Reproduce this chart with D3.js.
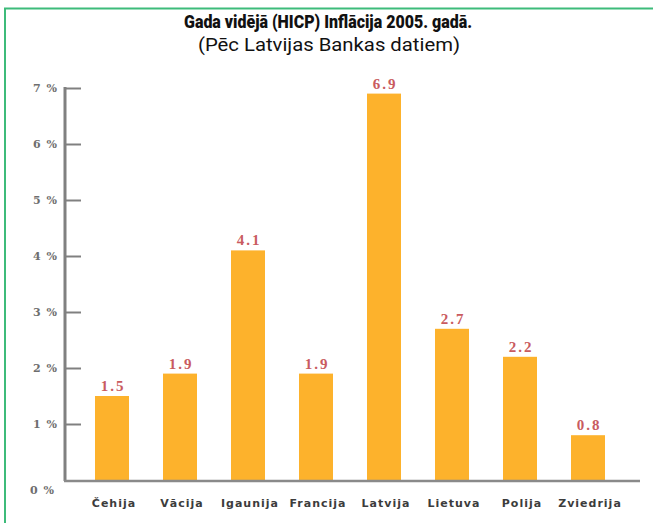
<!DOCTYPE html>
<html>
<head>
<meta charset="utf-8">
<script src="https://cdn.jsdelivr.net/npm/d3@7"></script>
<style>
  body { margin: 0; background: #fff; }
  svg { display: block; }
</style>
</head>
<body>
<script>
// chart data
const countries = ["Čehija", "Vācija", "Igaunija", "Francija", "Latvija", "Lietuva", "Polija", "Zviedrija"];
const inflation = [1.5, 1.9, 4.1, 1.9, 6.9, 2.7, 2.2, 0.8];
const tickValues = [0, 1, 2, 3, 4, 5, 6, 7];

const width = 653;
const height = 523;

const svg = d3.select("body")
  .append("svg")
  .attr("width", width)
  .attr("height", height);

// green frame (only left and top edges are visible)
svg.append("path")
  .attr("d", `M5,${height} L5,8.5 L${width},8.5`)
  .attr("fill", "none")
  .attr("stroke", "#3dbb7a")
  .attr("stroke-width", 2);

// titles
svg.append("text")
  .attr("x", 328)
  .attr("y", 28)
  .attr("text-anchor", "middle")
  .attr("font-family", "'Liberation Sans Narrow', 'Roboto', sans-serif")
  .attr("font-weight", 900)
  .attr("font-size", 19)
  .attr("textLength", 288)
  .attr("lengthAdjust", "spacingAndGlyphs")
  .attr("fill", "#111")
  .text("Gada vidējā (HICP) Inflācija 2005. gadā.");

svg.append("text")
  .attr("x", 329)
  .attr("y", 51)
  .attr("text-anchor", "middle")
  .attr("font-family", "'Liberation Sans Narrow', 'Roboto', sans-serif")
  .attr("font-size", 19)
  .attr("textLength", 262)
  .attr("lengthAdjust", "spacingAndGlyphs")
  .attr("fill", "#111")
  .text("(Pēc Latvijas Bankas datiem)");

// scales
const x = d3.scaleBand()
  .domain(countries)
  .range([61, 639])
  .paddingInner(0.5)
  .paddingOuter(0.5);

const y = d3.scaleLinear()
  .domain([0, 7])
  .range([480, 88]);

// bars
svg.selectAll(".bar")
  .data(countries)
  .enter()
  .append("rect")
  .attr("class", "bar")
  .attr("x", d => x(d))
  .attr("width", x.bandwidth())
  .attr("y", (d, i) => y(inflation[i]))
  .attr("height", (d, i) => y(0) - y(inflation[i]))
  .attr("fill", "#fdb22c");

// value labels
svg.selectAll(".val")
  .data(countries)
  .enter()
  .append("text")
  .attr("class", "val")
  .attr("x", d => x(d) + x.bandwidth() / 2 + 1)
  .attr("y", (d, i) => y(inflation[i]) - 5)
  .attr("text-anchor", "middle")
  .attr("font-family", "'Liberation Serif', serif")
  .attr("font-weight", "bold")
  .attr("font-size", 15)
  .attr("letter-spacing", 2)
  .attr("fill", "#c95b60")
  .text((d, i) => inflation[i].toFixed(1));

// y axis
const yAxis = d3.axisRight(y)
  .tickValues(tickValues.slice(1))
  .tickSize(16)
  .tickFormat("");

const yg = svg.append("g")
  .attr("transform", "translate(65,0)")
  .call(yAxis);
yg.select(".domain").remove();
yg.selectAll(".tick line")
  .attr("stroke", "#808080")
  .attr("stroke-width", 2);

svg.append("line")
  .attr("x1", 65).attr("x2", 65)
  .attr("y1", y(7) - 1).attr("y2", y(0) + 1)
  .attr("stroke", "#808080")
  .attr("stroke-width", 3);

// y tick labels
svg.selectAll(".ylab")
  .data(tickValues)
  .enter()
  .append("text")
  .attr("class", "ylab")
  .attr("x", d => d === 0 ? 55 : 58)
  .attr("y", d => d === 0 ? y(0) + 14 : y(d) + 4)
  .attr("text-anchor", "end")
  .attr("font-family", "'DejaVu Serif', serif")
  .attr("font-weight", "bold")
  .attr("font-size", 11)
  .attr("letter-spacing", 1)
  .attr("fill", "#6e6e6e")
  .text(d => d + " %");

// x axis baseline
svg.append("line")
  .attr("x1", 64).attr("x2", 640)
  .attr("y1", y(0) + 1).attr("y2", y(0) + 1)
  .attr("stroke", "#8a8a8a")
  .attr("stroke-width", 2.5);

// category labels
svg.selectAll(".xlab")
  .data(countries)
  .enter()
  .append("text")
  .attr("class", "xlab")
  .attr("x", d => x(d) + x.bandwidth() / 2 + 2)
  .attr("y", 507)
  .attr("text-anchor", "middle")
  .attr("font-family", "'DejaVu Sans', sans-serif")
  .attr("font-weight", "bold")
  .attr("font-size", 11)
  .attr("letter-spacing", 1)
  .attr("fill", "#3c3c3c")
  .text(d => d);
</script>
</body>
</html>
